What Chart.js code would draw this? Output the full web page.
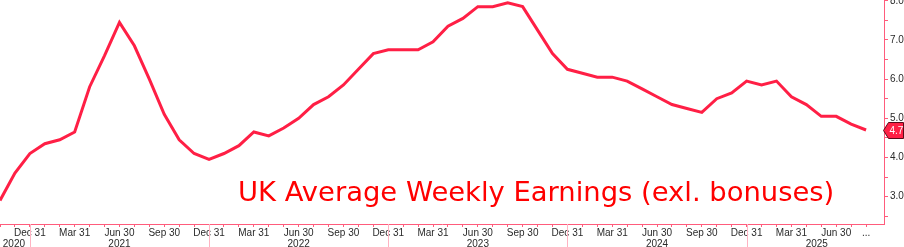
<!DOCTYPE html>
<html>
<head>
<meta charset="utf-8">
<script src="https://cdn.jsdelivr.net/npm/chart.js@4.4.1/dist/chart.umd.min.js"></script>
<style>
  html, body { margin: 0; padding: 0; background: #fff; }
  #wrap { position: relative; width: 904px; height: 247px; }
  #title {
    position: absolute; left: 238px; top: 178px;
    font-family: "DejaVu Sans"; font-size: 27.4px; line-height: 27px;
    color: #ff0000; white-space: nowrap;
  }
</style>
</head>
<body>
<div id="wrap">
  <canvas id="chart" width="904" height="247"></canvas>
  <div id="title">UK Average Weekly Earnings (exl. bonuses)</div>
</div>
<script>
// monthly observations, Oct 2020 .. Aug 2025
const months = [
  '2020-10', '2020-11', '2020-12',
  '2021-01', '2021-02', '2021-03', '2021-04', '2021-05', '2021-06',
  '2021-07', '2021-08', '2021-09', '2021-10', '2021-11', '2021-12',
  '2022-01', '2022-02', '2022-03', '2022-04', '2022-05', '2022-06',
  '2022-07', '2022-08', '2022-09', '2022-10', '2022-11', '2022-12',
  '2023-01', '2023-02', '2023-03', '2023-04', '2023-05', '2023-06',
  '2023-07', '2023-08', '2023-09', '2023-10', '2023-11', '2023-12',
  '2024-01', '2024-02', '2024-03', '2024-04', '2024-05', '2024-06',
  '2024-07', '2024-08', '2024-09', '2024-10', '2024-11', '2024-12',
  '2025-01', '2025-02', '2025-03', '2025-04', '2025-05', '2025-06',
  '2025-07', '2025-08'
];

const earnings = [
  2.9, 3.6, 4.1,
  4.35, 4.45, 4.65, 5.8, 6.6, 7.45, 6.85, 6.0, 5.1, 4.45, 4.1, 3.95,
  4.1, 4.3, 4.65, 4.55, 4.75, 5.0, 5.35, 5.55, 5.85, 6.25, 6.65, 6.75,
  6.75, 6.75, 6.95, 7.35, 7.55, 7.85, 7.85, 7.95, 7.85, 7.25, 6.65, 6.25,
  6.15, 6.05, 6.05, 5.95, 5.75, 5.55, 5.35, 5.25, 5.15, 5.5, 5.65, 5.95,
  5.85, 5.95, 5.55, 5.35, 5.05, 5.05, 4.85, 4.7
];

// tick labels
const quarterLabels = { '03': 'Mar 31', '06': 'Jun 30', '09': 'Sep 30', '12': 'Dec 31' };
const trailingLabel = '...';
const yearLabels = ['2020', '2021', '2022', '2023', '2024', '2025'];
const yearLabelAt = [0.93, 8, 20, 32, 44, 54.7];   // month index where each year name sits
const yearBreaks = [2, 14, 26, 38, 50];            // Dec of each year
const yTicks = [2.5, 3, 3.5, 4, 4.5, 5, 5.5, 6, 6.5, 7, 7.5, 8];

const pink = '#ff5c7c';
const lineRed = '#ff1f45';

// year separators under the x axis
const yearBreakLines = {
  id: 'yearBreakLines',
  afterDraw(chart) {
    const { ctx, chartArea, scales: { x } } = chart;
    ctx.save();
    ctx.strokeStyle = '#ffb3c2';
    ctx.lineWidth = 1;
    yearBreaks.forEach(i => {
      const px = Math.round(x.getPixelForValue(i)) + 0.5;
      ctx.beginPath();
      ctx.moveTo(px, chartArea.bottom);
      ctx.lineTo(px, chart.height);
      ctx.stroke();
    });
    ctx.restore();
  }
};

// last value tag on the right axis
const lastValueTag = {
  id: 'lastValueTag',
  afterDraw(chart) {
    const { ctx, chartArea, scales: { y } } = chart;
    const last = earnings[earnings.length - 1];
    const py = Math.round(y.getPixelForValue(last)) + 0.5;
    const tip = chartArea.right - 0.5;
    ctx.save();
    ctx.beginPath();
    ctx.moveTo(tip, py);
    ctx.lineTo(tip + 5, py - 8);
    ctx.lineTo(chart.width - 0.5, py - 8);
    ctx.lineTo(chart.width - 0.5, py + 8);
    ctx.lineTo(tip + 5, py + 8);
    ctx.closePath();
    ctx.fillStyle = '#ff2045';
    ctx.fill();
    ctx.strokeStyle = '#5a0a18';
    ctx.lineWidth = 1;
    ctx.stroke();
    ctx.fillStyle = '#fff';
    ctx.font = '10px "Liberation Sans"';
    ctx.textAlign = 'left';
    ctx.textBaseline = 'middle';
    ctx.fillText(last.toFixed(1), tip + 6, py + 0.5);
    ctx.restore();
  }
};

const ctx = document.getElementById('chart').getContext('2d');
new Chart(ctx, {
  type: 'line',
  data: {
    datasets: [{
      data: earnings.map((v, i) => ({ x: i, y: v })),
      borderColor: lineRed,
      borderWidth: 3,
      pointRadius: 0,
      tension: 0,
      fill: false
    }]
  },
  options: {
    responsive: false,
    animation: false,
    devicePixelRatio: 1,
    layout: { padding: 0 },
    plugins: { legend: { display: false }, tooltip: { enabled: false } },
    scales: {
      x: {
        type: 'linear',
        min: 0,
        max: 59.2,
        afterBuildTicks: (scale) => {
          const t = months.map((m, i) => ({ value: i, kind: 'month' }));
          yearLabelAt.forEach((v, j) => t.push({ value: v, kind: 'year', year: yearLabels[j] }));
          t.sort((a, b) => a.value - b.value);
          scale.ticks = t;
        },
        afterFit: (scale) => {
          scale.height = 23;
          scale.paddingLeft = 0;
          scale.paddingRight = 0;
        },
        ticks: {
          autoSkip: false,
          maxRotation: 0,
          minRotation: 0,
          padding: 1,
          color: '#2a2a2a',
          font: { family: 'Liberation Sans', size: 10, lineHeight: 1.1 },
          callback: (value, index, ticks) => {
            const t = ticks[index];
            if (t.kind === 'year') return ['', t.year];
            if (value === months.length - 1) return [trailingLabel, ''];
            const mm = months[value].slice(5);
            return [quarterLabels[mm] || '', ''];
          }
        },
        grid: {
          drawOnChartArea: false,
          tickLength: 3,
          color: (c) => (c.tick && c.tick.kind === 'year') ? 'rgba(0,0,0,0)' : pink
        },
        border: { color: pink }
      },
      y: {
        position: 'right',
        min: 2.3,
        max: 8.02,
        afterBuildTicks: (scale) => {
          scale.ticks = yTicks.map(v => ({ value: v }));
        },
        afterFit: (scale) => {
          scale.width = 20;
          scale.paddingTop = 0;
          scale.paddingBottom = 0;
        },
        ticks: {
          padding: 2,
          color: '#2a2a2a',
          font: { family: 'Liberation Sans', size: 10 },
          callback: (v) => Number.isInteger(v) ? v.toFixed(1) : ''
        },
        grid: { drawOnChartArea: false, tickLength: 4, color: pink },
        border: { color: pink }
      }
    }
  },
  plugins: [yearBreakLines, lastValueTag]
});
</script>
</body>
</html>
